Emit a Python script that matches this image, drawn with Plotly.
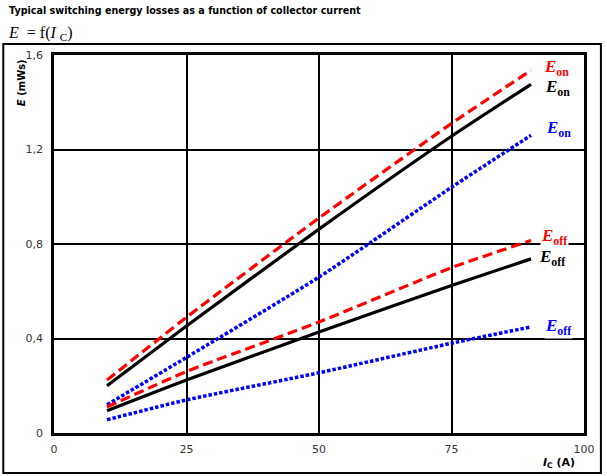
import plotly.graph_objects as go

ic = [10, 25, 50, 75, 90]
eon_red = [0.224, 0.49, 0.91, 1.31, 1.535]
eon_black = [0.2, 0.453, 0.863, 1.256, 1.476]
eon_blue = [0.12, 0.32, 0.66, 1.04, 1.26]
eoff_red = [0.11, 0.26, 0.47, 0.70, 0.815]
eoff_black = [0.094, 0.224, 0.428, 0.624, 0.737]
eoff_blue = [0.056, 0.14, 0.255, 0.38, 0.449]

x_ticks = [0, 25, 50, 75, 100]
y_ticks = [0, 0.4, 0.8, 1.2, 1.6]
y_ticktext = ["0", "0,4", "0,8", "1,2", "1,6"]

fig = go.Figure()

def add(y, color, dash, width):
    fig.add_trace(go.Scatter(x=ic, y=y, mode="lines", line_shape="spline",
                             line=dict(color=color, dash=dash, width=width, smoothing=0.6),
                             showlegend=False, hoverinfo="skip"))

add(eon_red, "#ff0000", "10px,5px", 3.2)
add(eon_black, "#000000", "solid", 3.2)
add(eon_blue, "#0000ff", "3.5px,2px", 3.5)
add(eoff_red, "#ff0000", "10px,5px", 3.2)
add(eoff_black, "#000000", "solid", 3.2)
add(eoff_blue, "#0000ff", "3.5px,2px", 3.5)

tickfont = dict(family="DejaVu Sans", size=11, color="#333333")
fig.update_xaxes(range=[0, 100], tickvals=x_ticks, showgrid=True, gridcolor="black",
                 gridwidth=2, showline=True, linecolor="black", linewidth=2.5, mirror=True,
                 zeroline=False, ticks="", tickfont=tickfont, fixedrange=True,
                 ticklabelstandoff=4)
fig.update_yaxes(range=[0, 1.6], tickvals=y_ticks, ticktext=y_ticktext, showgrid=True,
                 gridcolor="black", gridwidth=2, showline=True, linecolor="black",
                 linewidth=2.5, mirror=True, zeroline=False, ticks="", tickfont=tickfont,
                 fixedrange=True, ticklabelstandoff=6)

def lab(x_px, y_px, sub, color):
    fig.add_annotation(x=(x_px - 54) / 533, y=(433 - y_px) / 378, xref="paper", yref="paper",
                       text="<b><i>E</i><sub>" + sub + "</sub></b>", showarrow=False,
                       font=dict(family="Liberation Serif", size=17, color=color),
                       bgcolor="white", xanchor="center", yanchor="middle", borderpad=0)

lab(559, 68, "on", "#ff0000")
lab(560, 88, "on", "#000000")
lab(561, 129, "on", "#0000ff")
lab(557, 237, "off", "#ff0000")
lab(555, 258, "off", "#000000")
lab(561, 327, "off", "#0000ff")

fig.add_annotation(x=(7 - 54) / 533, y=(433 - 11) / 378, xref="paper", yref="paper",
                   text="<b>Typical switching energy losses as a function of collector current</b>",
                   showarrow=False, xanchor="left", yanchor="middle",
                   font=dict(family="DejaVu Sans", size=9.6, color="black"))
fig.add_annotation(x=(6 - 54) / 533, y=(433 - 33) / 378, xref="paper", yref="paper",
                   text="<i>E</i>&nbsp; = f(<i>I</i>&nbsp;<sub>C</sub>)",
                   showarrow=False, xanchor="left", yanchor="middle",
                   font=dict(family="Liberation Serif", size=16, color="black"))
fig.add_annotation(x=(21 - 54) / 533, y=(433 - 83) / 378, xref="paper", yref="paper",
                   text="<b><i>E</i> (mWs)</b>", textangle=-90,
                   showarrow=False, xanchor="center", yanchor="middle",
                   font=dict(family="DejaVu Sans", size=10, color="black"))
fig.add_annotation(x=(562 - 54) / 533, y=(433 - 463) / 378, xref="paper", yref="paper",
                   text="<b><i>I</i><sub>C</sub> (A)</b>",
                   showarrow=False, xanchor="center", yanchor="middle",
                   font=dict(family="DejaVu Sans", size=11, color="black"))

fig.add_shape(type="rect", xref="paper", yref="paper",
              x0=(3 - 54) / 533, x1=(604 - 54) / 533,
              y0=(433 - 473) / 378, y1=(433 - 44) / 378,
              line=dict(color="black", width=2))

fig.update_layout(width=607, height=476, margin=dict(l=54, r=20, t=55, b=43),
                  plot_bgcolor="white", paper_bgcolor="white")

fig.write_html("out.html", config={"displayModeBar": False},
               post_script="document.body.style.margin='0';document.body.style.overflow='hidden';")
